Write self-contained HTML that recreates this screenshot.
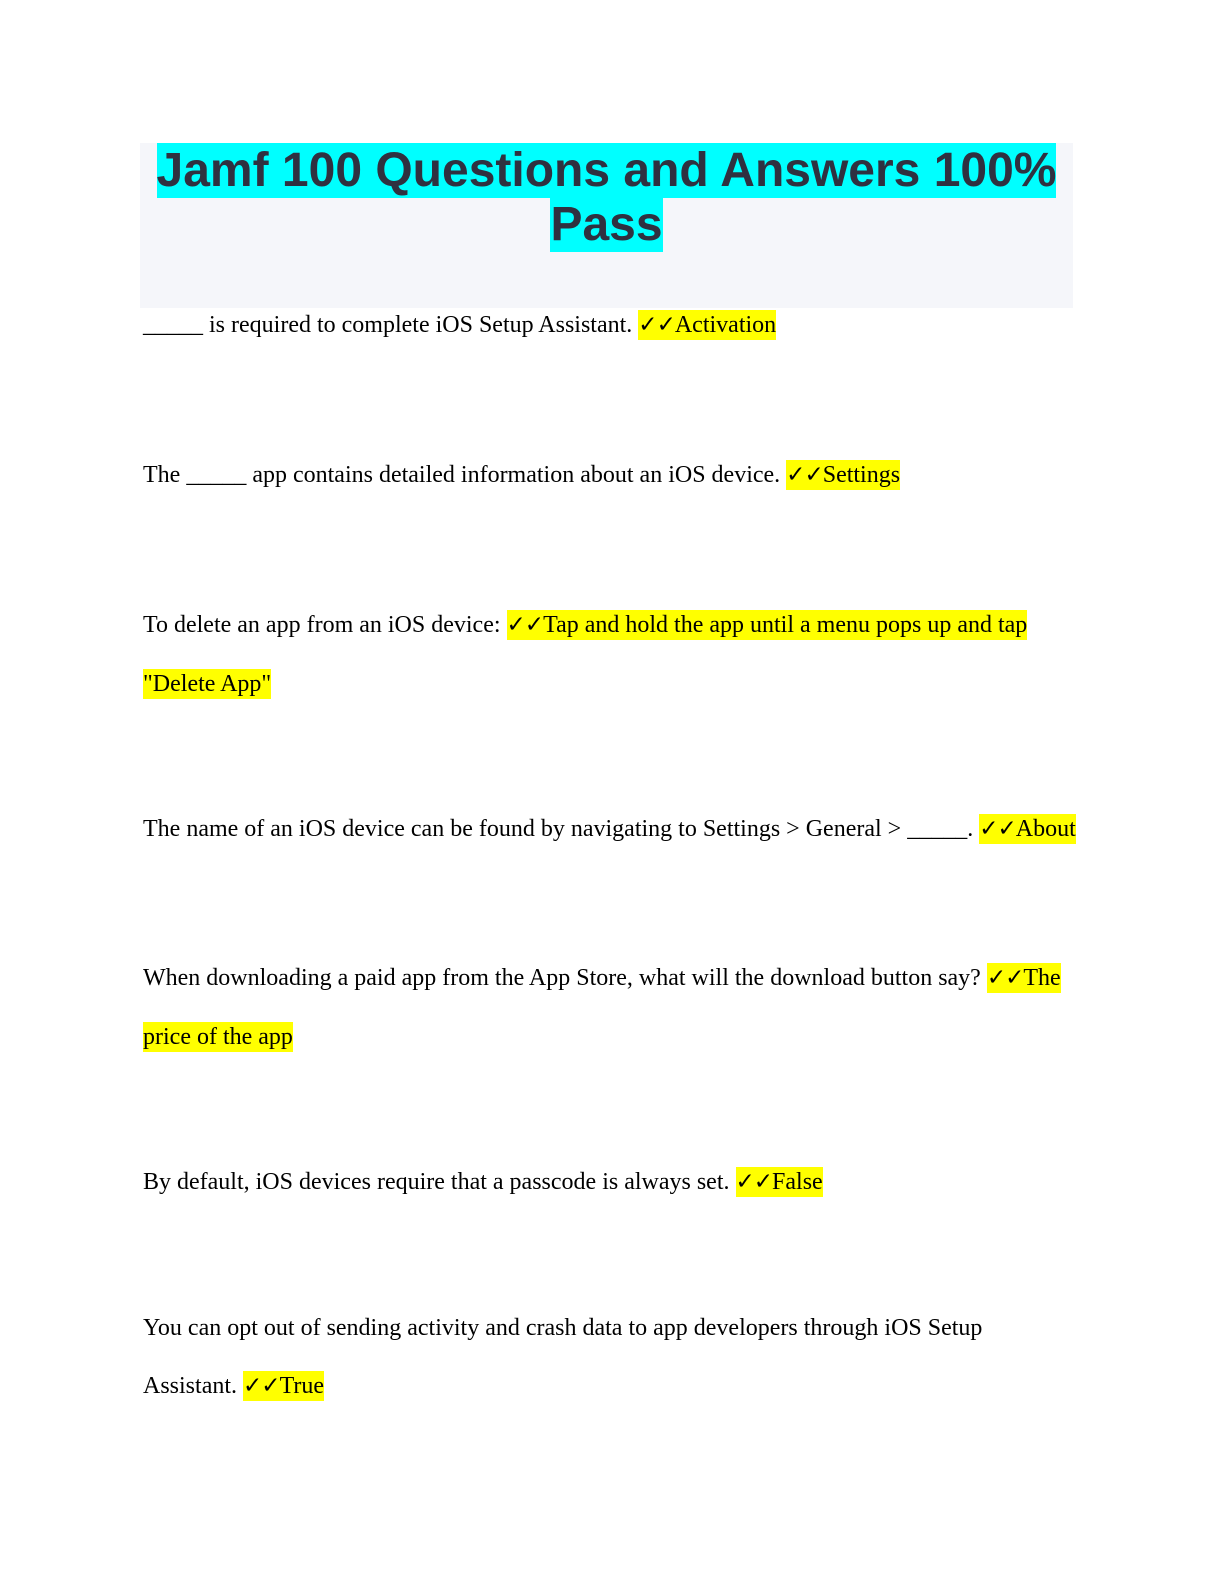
<!DOCTYPE html>
<html><head><meta charset="utf-8"><style>
html,body{margin:0;padding:0;background:#fff;}
body{width:1224px;height:1584px;position:relative;overflow:hidden;}
.box{position:absolute;left:140px;top:143px;width:933px;height:165px;background:#f5f6fa;}
.t{position:absolute;left:140px;width:933px;text-align:center;font-family:"Liberation Sans",sans-serif;font-weight:bold;font-size:48px;color:#2f3140;line-height:55px;white-space:nowrap;}
.t span{background:#00ffff;padding:1px 0;}
.l{position:absolute;left:143px;font-family:"Liberation Serif",serif;font-size:24px;color:#000;line-height:30px;white-space:nowrap;}
.h{background:#ffff00;padding:2px 0;}
.c{font-family:"DejaVu Sans",sans-serif;font-weight:bold;font-size:23px;letter-spacing:-1px;}
</style></head><body>
<div class="box"></div>
<div class="t" style="top:143px"><span>Jamf 100 Questions and Answers 100%</span></div>
<div class="t" style="top:197px"><span>Pass</span></div>
<div class="l" style="top:310px">_____ is required to complete iOS Setup Assistant. <span class="h"><span class="c">✓✓</span>Activation</span></div>
<div class="l" style="top:460px">The _____ app contains detailed information about an iOS device. <span class="h"><span class="c">✓✓</span>Settings</span></div>
<div class="l" style="top:610px">To delete an app from an iOS device: <span class="h"><span class="c">✓✓</span>Tap and hold the app until a menu pops up and tap</span></div>
<div class="l" style="top:669px"><span class="h">"Delete App"</span></div>
<div class="l" style="top:814px">The name of an iOS device can be found by navigating to Settings &gt; General &gt; _____. <span class="h"><span class="c">✓✓</span>About</span></div>
<div class="l" style="top:963px">When downloading a paid app from the App Store, what will the download button say? <span class="h"><span class="c">✓✓</span>The</span></div>
<div class="l" style="top:1022px"><span class="h">price of the app</span></div>
<div class="l" style="top:1167px">By default, iOS devices require that a passcode is always set. <span class="h"><span class="c">✓✓</span>False</span></div>
<div class="l" style="top:1313px">You can opt out of sending activity and crash data to app developers through iOS Setup</div>
<div class="l" style="top:1371px">Assistant. <span class="h"><span class="c">✓✓</span>True</span></div>
</body></html>
